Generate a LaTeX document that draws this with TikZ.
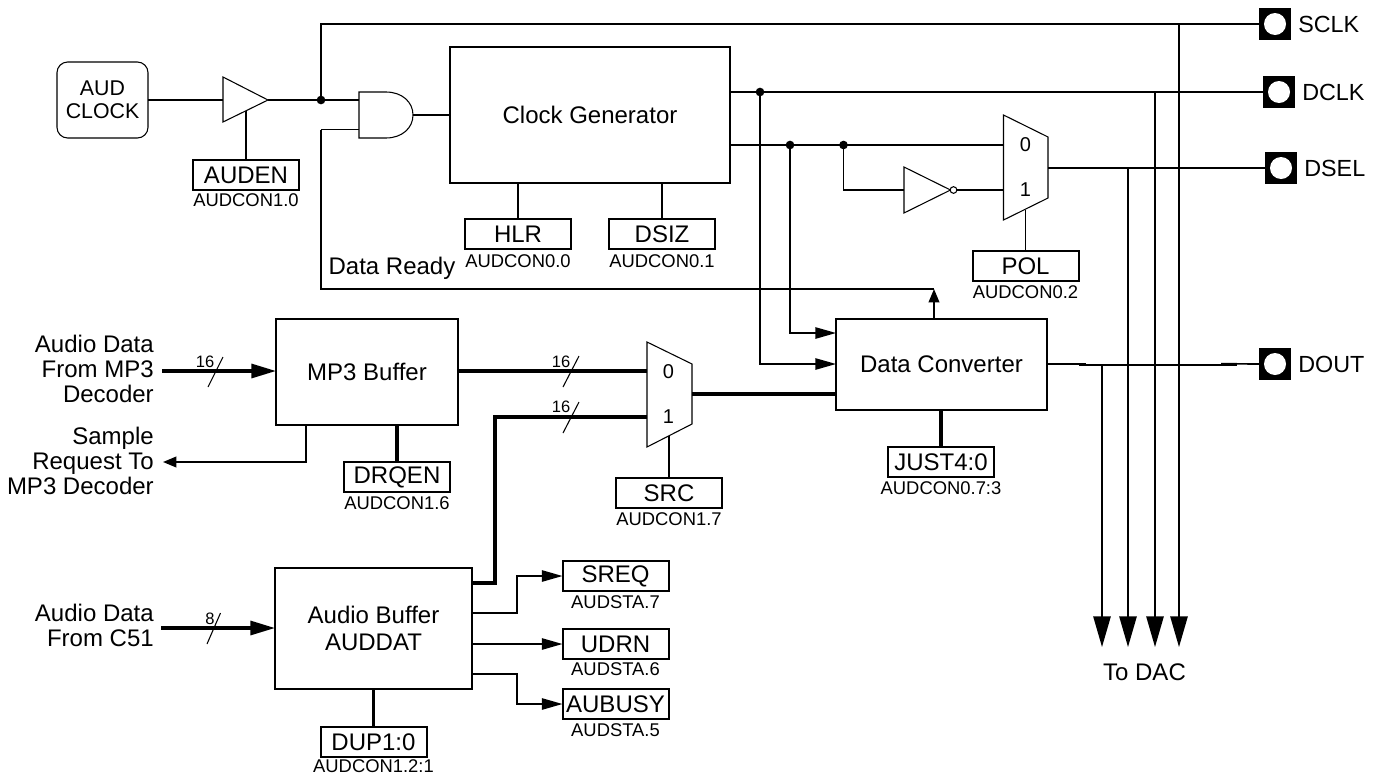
\documentclass[tikz,border=0pt]{standalone}
\usepackage{fontspec}
\setmainfont{Liberation Sans}
\usetikzlibrary{arrows.meta,calc}
\newcommand{\fs}[1]{\fontsize{#1}{#1}\selectfont}
\tikzset{
  wire/.style={line width=1.25pt,line join=miter},
  bus/.style={line width=2.4pt,line join=miter},
  gate/.style={line width=.8pt,fill=white,line join=miter},
  blockbox/.style={draw,line width=1.5pt,inner sep=0,outer sep=0,align=center,font=\fs{18}},
  regbox/.style={draw,line width=1.5pt,inner sep=0,outer sep=0,minimum width=79.5pt,minimum height=22.5pt,font=\fs{18}},
  reglabel/.style={inner sep=0,font=\fs{13.8}},
  plain/.style={inner sep=0,align=center,font=\fs{18}},
  rtext/.style={inner sep=0,align=right,anchor=east,font=\fs{18}},
  pinlabel/.style={inner sep=0,anchor=west,font=\fs{17.5}},
  pinbox/.style={fill=black,inner sep=0,outer sep=0,minimum size=24pt},
  pinhole/.style={circle,fill=white,inner sep=0,outer sep=0,minimum size=16.5pt},
  junction/.style={circle,fill=black,inner sep=0,outer sep=0,minimum size=6.5pt},
  bubble/.style={circle,draw,line width=.8pt,fill=white,inner sep=0,outer sep=0,minimum size=5pt},
  slash/.style={line width=.8pt},
  widthlabel/.style={inner sep=0,font=\fs{12.4}},
  muxlabel/.style={inner sep=0,font=\fs{15}},
  smalltip/.style={-{Triangle[length=10pt,width=8pt]}},
  midtip/.style={-{Triangle[length=15.5pt,width=8.5pt]}},
  bustip/.style={-{Triangle[length=18.5pt,width=10.5pt]}},
  bigtip/.style={-{Triangle[length=23pt,width=13pt]}},
}
\begin{document}
\begin{tikzpicture}[x=.75pt,y=-.75pt]
\useasboundingbox (0,0) rectangle (1380,775);

% blocks
\node[draw,line width=.8pt,inner sep=0,outer sep=0,align=center,font=\fs{16},rounded corners=8pt,minimum width=68.25pt,minimum height=57pt] (aud) at (102.5,100) {AUD\\[1.2pt]CLOCK};
\node[blockbox,minimum width=210pt,minimum height=102pt] (cg) at (590,115) {Clock Generator};
\node[blockbox,minimum width=158.25pt,minimum height=68.25pt] (dc) at (941.5,364.5) {Data Converter};
\node[blockbox,minimum width=136.5pt,minimum height=79.5pt] (mp3) at (367,372) {MP3 Buffer};
\node[blockbox,minimum width=147.75pt,minimum height=90.75pt] (ab) at (373.5,628.5) {Audio Buffer\\[2.2pt]AUDDAT};

% registers
\node[regbox] (auden) at (246,175) {AUDEN};
\node[reglabel] (audenl) at (246,200) {AUDCON1.0};
\node[regbox] (hlr) at (518,234) {HLR};
\node[reglabel] (hlrl) at (518,261) {AUDCON0.0};
\node[regbox] (dsiz) at (662,234) {DSIZ};
\node[reglabel] (dsizl) at (662,261) {AUDCON0.1};
\node[regbox] (pol) at (1025.5,266) {POL};
\node[reglabel] (poll) at (1025.5,292) {AUDCON0.2};
\node[regbox] (drqen) at (397,477) {DRQEN};
\node[reglabel] (drqenl) at (397,503) {AUDCON1.6};
\node[regbox] (src) at (669,493) {SRC};
\node[reglabel] (srcl) at (669,519) {AUDCON1.7};
\node[regbox] (just) at (941,462) {JUST4:0};
\node[reglabel] (justl) at (941,488) {AUDCON0.7:3};
\node[regbox] (sreq) at (615.5,576) {SREQ};
\node[reglabel] (sreql) at (615.5,602) {AUDSTA.7};
\node[regbox] (udrn) at (615.5,644) {UDRN};
\node[reglabel] (udrnl) at (615.5,669) {AUDSTA.6};
\node[regbox] (aubusy) at (615.5,704) {AUBUSY};
\node[reglabel] (aubusyl) at (615.5,730) {AUDSTA.5};
\node[regbox] (dup) at (373.5,742) {DUP1:0};
\node[reglabel] (dupl) at (373.5,766.5) {AUDCON1.2:1};

% pins
\node[pinbox] (sclk) at (1275,24) {};
\node[pinhole] (sclkh) at (1275,24) {};
\node[pinlabel] (sclkl) at (1298,24) {SCLK};
\node[pinbox] (dclk) at (1279,92) {};
\node[pinhole] (dclkh) at (1279,92) {};
\node[pinlabel] (dclkl) at (1302,92) {DCLK};
\node[pinbox] (dsel) at (1281,168) {};
\node[pinhole] (dselh) at (1281,168) {};
\node[pinlabel] (dsell) at (1304,168) {DSEL};
\node[pinbox] (dout) at (1275,364) {};
\node[pinhole] (douth) at (1275,364) {};
\node[pinlabel] (doutl) at (1298,364) {DOUT};

% texts
\node[plain] (ready) at (392,268) {Data Ready};
\node[rtext] (mp3in) at (154,369) {Audio Data\\[1pt]From MP3\\[1pt]Decoder};
\node[rtext] (mp3out) at (154,461) {Sample\\[1pt]Request To\\[1pt]MP3 Decoder};
\node[rtext] (c51in) at (154,625.5) {Audio Data\\[1pt]From C51};
\node[plain] (todac) at (1144.5,672) {To DAC};

% named points
\coordinate (bufin) at (223,100);
\coordinate (bufout) at (268,100);
\coordinate (bufen) at (246,111);
\coordinate (andA) at (359,100);
\coordinate (andB) at (359,129.5);
\coordinate (andout) at (413,115);
\coordinate (cgin) at (450,115);
\coordinate (topL) at (321,24);
\coordinate (rdyL) at (321,289);
\coordinate (rdyLt) at (321,129.5);
\coordinate (rdyR) at (934,289);
\coordinate (dcup) at (934,319);
\coordinate (cgd) at (730,92);
\coordinate (cgs) at (730,145);
\coordinate (m1a) at (1003.5,145);
\coordinate (m1b) at (1003.5,190);
\coordinate (m1o) at (1048,168);
\coordinate (m1s) at (1025.5,210);
\coordinate (invin) at (904,190);
\coordinate (m2a) at (647,371);
\coordinate (m2b) at (647,417);
\coordinate (m2o) at (692,394);
\coordinate (m2s) at (669,436);
\coordinate (dcin1) at (836,333);
\coordinate (dcin2) at (836,364);
\coordinate (dcin3) at (836,394);
\coordinate (dt1) at (1102,647); \coordinate (ds1) at (1102,364.7);
\coordinate (dt2) at (1128,647); \coordinate (ds2) at (1128,168);
\coordinate (dt3) at (1155,647); \coordinate (ds3) at (1155,92);
\coordinate (dt4) at (1179,647); \coordinate (ds4) at (1179,24);

% gates
\draw[wire] (aud.east |- bufin) -- (bufin);
\draw[wire] (bufout) -- (andA);
\draw[wire] (bufen) -- (auden.north);
\draw[gate] (bufin |- 0,77) -- (bufout) -- (bufin |- 0,122) -- cycle;
\draw[wire] (rdyLt) -- (andB);
\draw[wire] (andout) -- (cgin);
\draw[gate] (359,92) -- (386,92) .. controls (402,92) and (413,102) .. (andout) .. controls (413,128) and (402,138) .. (386,138) -- (359,138) -- cycle;
\node[junction] (j1) at (321,100) {};
\draw[wire] (j1) -- (topL) -- (sclk.west);
\draw[wire] (rdyLt) -- (rdyL) -- (rdyR);
\draw[wire,smalltip] (dcup) -- (rdyR);

\node[junction] (j2) at (760,92) {};
\node[junction] (j3) at (790,145) {};
\node[junction] (j4) at (843.5,145) {};
\draw[wire] (cgd) -- (dclk.west);
\draw[wire] (cgs) -- (m1a);
\draw[wire,midtip] (j2) |- (dcin2);
\draw[wire,midtip] (j3) |- (dcin1);
\draw[wire] (j4) |- (invin);
\draw[gate] (904,167) -- (950.5,190) -- (904,213) -- cycle;
\node[bubble] (bub) at (953.5,190) {};
\draw[wire] (bub.east) -- (m1b);
\draw[gate] (1003.5,115) -- (1048,137) -- (1048,198) -- (1003.5,220) -- cycle;
\node[muxlabel] (m1l0) at (1025.5,145) {0};
\node[muxlabel] (m1l1) at (1025.5,190) {1};
\draw[wire] (m1s) -- (pol.north);
\draw[wire] (m1o) -- (dsel.west);
\draw[wire] (cg.south -| hlr.north) -- (hlr.north);
\draw[wire] (cg.south -| dsiz.north) -- (dsiz.north);

% mp3 path
\draw[bus,bustip] (162,371) -- (mp3.west |- 0,371);
\draw[slash] (223,357) -- (208,387);
\node[widthlabel] (w1) at (205,362) {16};
\draw[wire,smalltip] (306,425) |- (163,462);
\draw[bus] (mp3.south -| drqen.north) -- (drqen.north);
\draw[bus] (mp3.east |- m2a) -- (m2a);
\draw[slash] (579,356) -- (563,387);
\node[widthlabel] (w2) at (561,362) {16};

% mux 2
\draw[bus] (ab.east |- 0,583) -- (495,583) -- (495,417) -- (m2b);
\draw[slash] (579,402) -- (563,433);
\node[widthlabel] (w3) at (561,407) {16};
\draw[gate] (647,342) -- (692,364) -- (692,424) -- (647,447) -- cycle;
\node[muxlabel] (m2l0) at (668.5,372) {0};
\node[muxlabel] (m2l1) at (668.5,417) {1};
\draw[wire] (m2s) -- (src.north);
\draw[bus] (m2o) -- (dcin3);
\draw[bus] (dc.south -| just.north) -- (just.north);

% audio buffer
\draw[bus,bustip] (161,628) -- (ab.west |- 0,628);
\draw[slash] (220.5,613) -- (207,644);
\node[widthlabel] (w4) at (210,619) {8};
\draw[wire,midtip] (ab.east |- 0,613) -- (517,613) |- (sreq.west);
\draw[wire,midtip] (ab.east |- 0,644) -- (udrn.west);
\draw[wire,midtip] (ab.east |- 0,674) -- (517,674) |- (aubusy.west);
\draw[bus] (ab.south) -- (dup.north);

% dout
\draw[wire] (1047,363.7) -- (1086,363.7);
\draw[wire] (1079,364.7) -- (1237,364.7);
\draw[wire] (1221,363.7) -- (dout.west);

% DAC arrows
\draw[wire,bigtip] (ds1) -- (dt1);
\draw[wire,bigtip] (ds2) -- (dt2);
\draw[wire,bigtip] (ds3) -- (dt3);
\draw[wire,bigtip] (ds4) -- (dt4);
\end{tikzpicture}
\end{document}
